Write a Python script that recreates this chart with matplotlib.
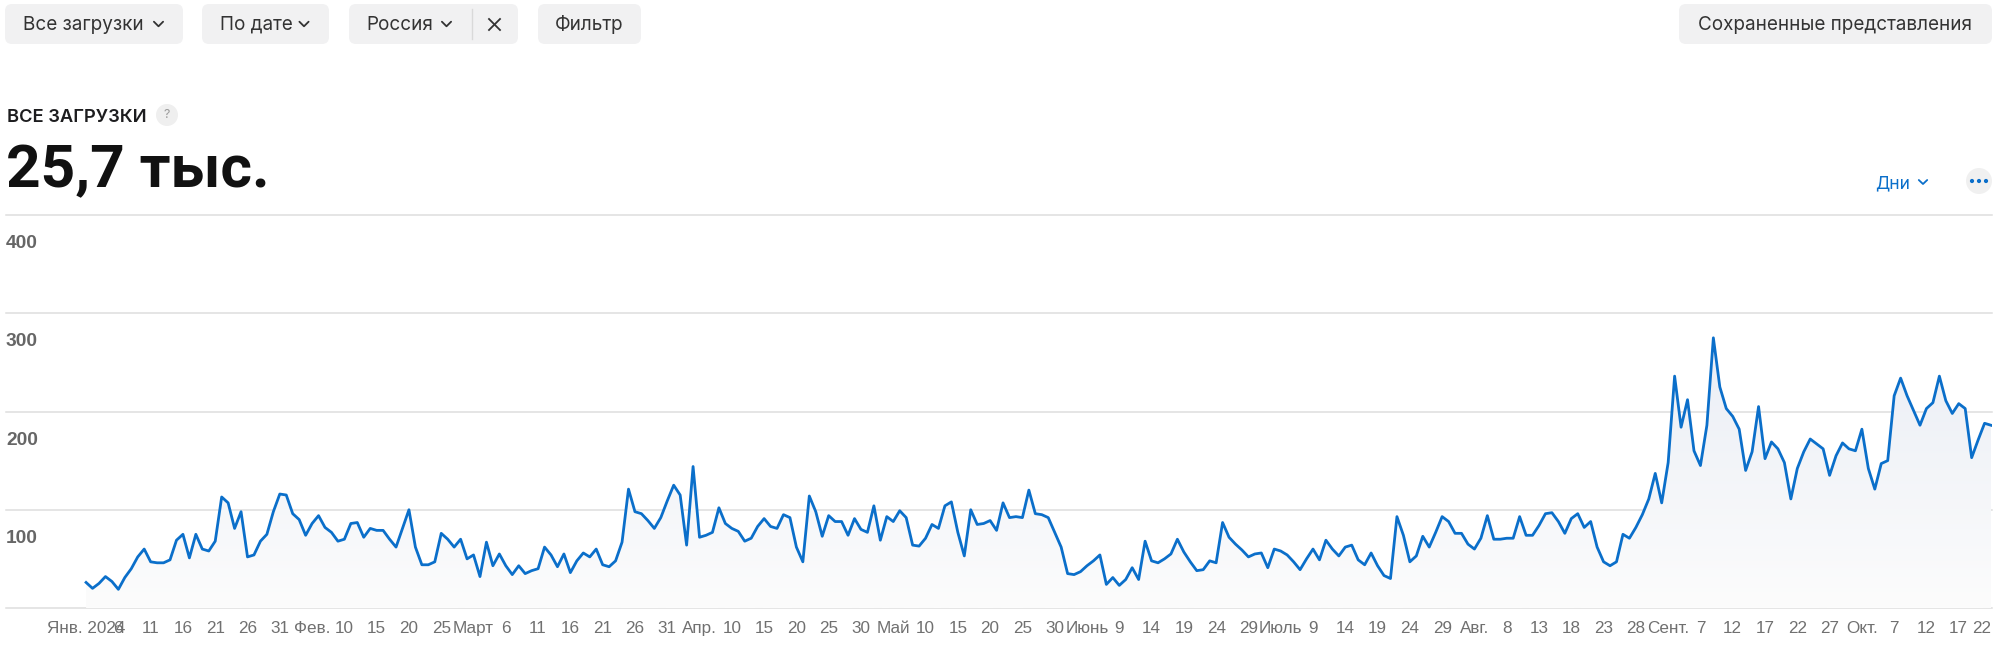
import numpy as np
import matplotlib
matplotlib.use("Agg")
import matplotlib.pyplot as plt
from matplotlib.patches import FancyBboxPatch, Circle
from matplotlib.lines import Line2D
from matplotlib.transforms import Affine2D, blended_transform_factory
from matplotlib.colors import LinearSegmentedColormap

W, H = 1999, 648

# daily downloads, 1 Jan 2024 .. 22 Oct 2024 (one value per day)
downloads = [
    26, 20, 25, 32, 27, 19, 31, 40, 52, 60, 47, 46, 46, 49, 69, 75, 51, 75, 60, 58,
    68, 113, 107, 81, 98, 52, 54, 68, 75, 98, 116, 115, 96, 90, 74, 86, 94, 82, 77, 68,
    70, 86, 87, 72, 81, 79, 79, 70, 62, 81, 100, 62, 44, 44, 47, 76, 70, 62, 70, 50,
    54, 32, 67, 43, 55, 43, 34, 43, 35, 38, 40, 62, 54, 42, 55, 36, 48, 56, 52, 60,
    44, 42, 48, 67, 121, 98, 96, 89, 81, 92, 109, 125, 115, 64, 144, 72, 74, 77, 102, 86,
    81, 78, 68, 71, 83, 91, 83, 81, 95, 92, 62, 47, 114, 98, 73, 94, 88, 88, 74, 91,
    80, 77, 104, 69, 93, 88, 99, 92, 64, 63, 71, 85, 81, 104, 108, 77, 53, 100, 85, 86,
    89, 79, 107, 92, 93, 92, 120, 96, 95, 92, 77, 62, 35, 34, 37, 43, 48, 54, 24, 31,
    23, 29, 41, 29, 68, 48, 46, 50, 55, 70, 57, 47, 38, 39, 48, 46, 87, 72, 65, 59,
    52, 55, 56, 41, 60, 58, 54, 47, 39, 50, 60, 49, 69, 60, 53, 62, 64, 49, 44, 56,
    43, 33, 30, 93, 74, 47, 53, 73, 62, 77, 93, 88, 76, 76, 65, 60, 71, 94, 70, 70,
    71, 71, 93, 74, 74, 84, 96, 97, 88, 76, 91, 96, 82, 88, 62, 47, 43, 47, 75, 71,
    82, 95, 111, 137, 107, 148, 236, 184, 212, 160, 145, 186, 275, 225, 203, 195, 182, 140, 159, 205,
    152, 169, 162, 148, 111, 142, 159, 172, 167, 162, 135, 155, 168, 162, 160, 182, 142, 121, 147, 150,
    216, 234, 216, 201, 186, 203, 209, 236, 211, 198, 208, 203, 153, 171, 188, 186,
]
day = np.arange(len(downloads))

tick_days = list(range(0, 296, 5))
tick_labels = [
    "Янв. 2024", "6", "11", "16", "21", "26", "31", "Фев.", "10", "15", "20", "25",
    "Март", "6", "11", "16", "21", "26", "31", "Апр.", "10", "15", "20", "25", "30",
    "Май", "10", "15", "20", "25", "30", "Июнь", "9", "14", "19", "24", "29",
    "Июль", "9", "14", "19", "24", "29", "Авг.", "8", "13", "18", "23", "28",
    "Сент.", "7", "12", "17", "22", "27", "Окт.", "7", "12", "17", "22",
]
grid_values = [0, 100, 200, 300, 400]
y_labels = ["100", "200", "300", "400"]

title = "ВСЕ ЗАГРУЗКИ"
total = "25,7 тыс."

BLUE = "#0b6fca"
UI = "Inter"
AXF = "Liberation Sans"

fig = plt.figure(figsize=(W / 100, H / 100), dpi=100)
fig.patch.set_facecolor("white")
# pixel coordinates measured from the top-left corner
pix = Affine2D().scale(1, -1).translate(0, H)

ax = fig.add_axes([6 / W, 40 / H, (1992 - 6) / W, (608 - 215) / H])
ax.set_xlim(-12.4, 295.15)
ax.set_ylim(0, 400)
ax.axis("off")

for v in grid_values:
    ax.axhline(v, color="#dedede", lw=1.1, clip_on=False, zorder=1)

# gradient fill under the line
poly = ax.fill_between(day, downloads, 0, facecolor="none", edgecolor="none")
cmap = LinearSegmentedColormap.from_list("fade", ["#fcfcfc", "#e9edf5"])
grad = np.linspace(1, 0, 256).reshape(-1, 1)
img = ax.imshow(grad, extent=[0, day[-1], 0, 300], aspect="auto", cmap=cmap,
                origin="upper", zorder=2)
img.set_clip_path(poly.get_paths()[0], transform=ax.transData)

ax.plot(day, downloads, color=BLUE, lw=2.0, solid_joinstyle="round", zorder=3)

for lab in y_labels:
    ax.text(0, float(lab) - 33.6, lab, transform=blended_transform_factory(ax.transAxes, ax.transData),
            ha="left", va="baseline", fontsize=13.8, fontweight="bold", color="#666666", family=AXF)

xt = blended_transform_factory(ax.transData, pix)
for i, (d, lab) in enumerate(zip(tick_days, tick_labels)):
    ha = "right" if i == len(tick_labels) - 1 else "center"
    ax.text(d, 633, lab, transform=xt, ha=ha, va="baseline", fontsize=12.3,
            color="#707070", family=AXF, clip_on=False)


def chevron(cx, cy, color, w=4.6, h=4.6, lw=1.3):
    fig.add_artist(Line2D([cx - w, cx, cx + w], [cy - h / 2, cy + h / 2, cy - h / 2],
                          transform=pix, color=color, lw=lw, solid_capstyle="round",
                          solid_joinstyle="round"))


def box(x0, x1, y0=4, y1=44, r=7):
    fig.add_artist(FancyBboxPatch((x0, y0), x1 - x0, y1 - y0,
                                  boxstyle=f"round,pad=0,rounding_size={r}",
                                  transform=pix, facecolor="#f1f1f2", edgecolor="none"))


TXT = dict(transform=pix, fontsize=13.6, color="#333333", family=UI, va="baseline")

# top buttons
box(5, 183)
fig.text(23, 30, "Все загрузки", **TXT)
chevron(158.5, 24, "#333333")
box(202, 329)
fig.text(220, 30, "По дате", **TXT)
chevron(304, 24, "#333333")
box(349, 518)
fig.text(366, 30, "Россия", **TXT)
chevron(446.5, 24, "#333333")
fig.add_artist(Line2D([472, 472], [9, 39], transform=pix, color="#d9d9d9", lw=1))
fig.add_artist(Line2D([489, 500], [19, 30], transform=pix, color="#333333", lw=1.3))
fig.add_artist(Line2D([489, 500], [30, 19], transform=pix, color="#333333", lw=1.3))
box(538, 641)
fig.text(589.5, 30, "Фильтр", ha="center", **TXT)
box(1679, 1992)
fig.text(1835.5, 30, "Сохраненные представления", ha="center", **TXT)

# header
fig.text(7, 122, title, transform=pix, fontsize=13.2, fontweight="semibold", color="#1d1d1f",
         family=UI, va="baseline")
fig.add_artist(Circle((167, 115), 11, transform=pix, facecolor="#efefef", edgecolor="none"))
fig.text(167, 115, "?", transform=pix, fontsize=9, color="#9a9a9a", family=UI, ha="center", va="center")
fig.text(6, 187, total, transform=pix, fontsize=43.5, fontweight="bold", color="#111111",
         family="Roboto", va="baseline")

fig.text(1875, 188, "Дни", transform=pix, fontsize=12.5, color=BLUE, family=UI, va="baseline")
chevron(1923, 182, BLUE, w=4.2, h=4, lw=1.3)
fig.add_artist(Circle((1979, 181), 13, transform=pix, facecolor="#f0f0f0", edgecolor="none"))
for dx in (-7, 0, 7):
    fig.add_artist(Circle((1979 + dx, 181), 2.1, transform=pix, facecolor=BLUE, edgecolor="none"))

fig.savefig("out.png", dpi=100, facecolor="white")
